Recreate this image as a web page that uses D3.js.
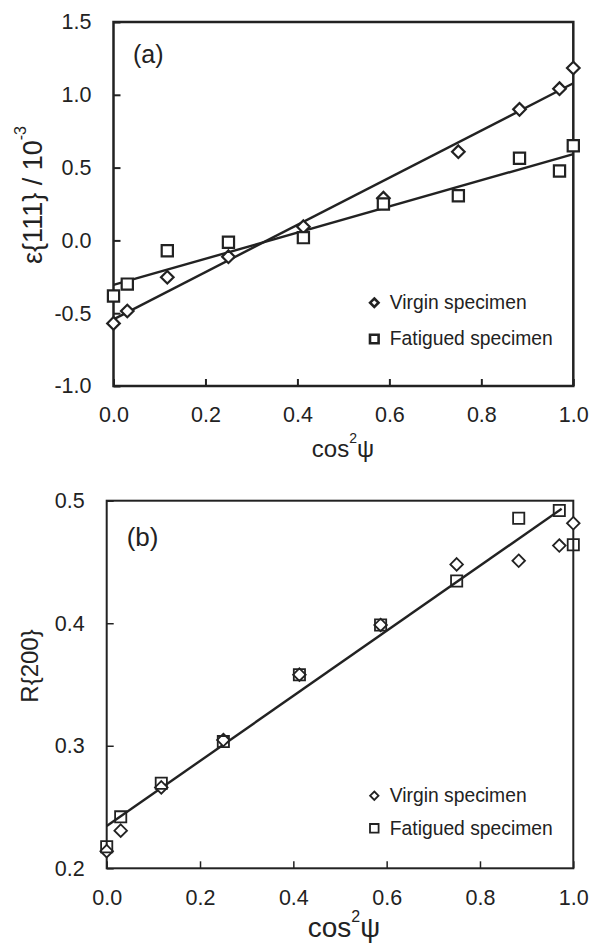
<!DOCTYPE html>
<html>
<head>
<meta charset="utf-8">
<script src="https://cdn.jsdelivr.net/npm/d3@7"></script>
<style>
  body { margin: 0; background: #fff; }
  svg { display: block; }
  text { font-family: "Liberation Sans", Arial, Helvetica, sans-serif; fill: #222; }
</style>
</head>
<body>
<svg id="chart" width="591" height="952"></svg>
<script>
// cos^2(psi) for psi = 90, 80, ..., 0 degrees
const cosPsi = [0, 0.030, 0.117, 0.250, 0.413, 0.587, 0.750, 0.883, 0.970, 1.0];

// (a) lattice strain eps{111} (x 10^-3)
const strainVirgin   = [-0.57, -0.485, -0.253, -0.112, 0.094, 0.29, 0.609, 0.90, 1.042, 1.184];
const strainFatigued = [-0.382, -0.30, -0.071, -0.013, 0.019, 0.25, 0.307, 0.564, 0.477, 0.65];
// linear fits: [intercept, slope]
const strainFitVirgin   = [-0.542, 1.621];
const strainFitFatigued = [-0.306, 0.899];

// (b) peak ratio R{200}
const ratioVirgin   = [0.214, 0.2307, 0.266, 0.3047, 0.358, 0.3986, 0.448, 0.451, 0.4634, 0.4816];
const ratioFatigued = [0.2176, 0.242, 0.2694, 0.3034, 0.358, 0.3986, 0.4345, 0.4857, 0.492, 0.464];
const ratioFit = [0.2345, 0.2655];
const ratioFitRange = [0, 0.975];

const xTicks = [0, 0.2, 0.4, 0.6, 0.8, 1.0];
const strainTicks = [-1.0, -0.5, 0.0, 0.5, 1.0, 1.5];
const ratioTicks = [0.2, 0.3, 0.4, 0.5];
const seriesNames = ["Virgin specimen", "Fatigued specimen"];

const ink = "#222";
const svg = d3.select("#chart");
const fmt = d => d.toFixed(1);

function diamondPath(r) {
  return `M0,${-r}L${r},0L0,${r}L${-r},0Z`;
}
function squarePath(h) {
  return `M${-h},${-h}H${h}V${h}H${-h}Z`;
}

function drawPanel(p) {
  const x = d3.scaleLinear().domain([0, 1]).range([p.left, p.right]);
  const y = d3.scaleLinear().domain(p.yDomain).range([p.bottom, p.top]);
  const g = svg.append("g");

  // axes with inward ticks
  const ax = g.append("g")
    .attr("transform", `translate(0,${p.bottom})`)
    .call(d3.axisBottom(x).tickValues(xTicks).tickFormat(fmt).tickSize(-7).tickPadding(p.xPad));
  const ay = g.append("g")
    .attr("transform", `translate(${p.left},0)`)
    .call(d3.axisLeft(y).tickValues(p.yTicks).tickFormat(fmt).tickSize(-7).tickPadding(p.yPad));
  [ax, ay].forEach(a => {
    a.select(".domain").remove();
    a.attr("font-family", null).attr("font-size", null);
    a.selectAll("line").attr("stroke", ink).attr("stroke-width", p.tickW);
    a.selectAll("text").attr("font-size", 21.5).attr("fill", ink);
  });

  // frame
  g.append("rect")
    .attr("x", p.left).attr("y", p.top)
    .attr("width", p.right - p.left).attr("height", p.bottom - p.top)
    .attr("fill", "none").attr("stroke", ink).attr("stroke-width", p.frameW);

  // fit lines
  p.fits.forEach(f => {
    const xs = f.range;
    g.append("line")
      .attr("x1", x(xs[0])).attr("y1", y(f.coef[0] + f.coef[1] * xs[0]))
      .attr("x2", x(xs[1])).attr("y2", y(f.coef[0] + f.coef[1] * xs[1]))
      .attr("stroke", ink).attr("stroke-width", 2.4);
  });

  // markers
  p.series.forEach(s => {
    g.append("g").selectAll("path")
      .data(s.values.map((v, i) => [cosPsi[i], v]))
      .join("path")
      .attr("transform", d => `translate(${x(d[0])},${y(d[1])})`)
      .attr("d", s.shape === "diamond" ? diamondPath(6.3) : squarePath(5.6))
      .attr("fill", s.fill)
      .attr("stroke", ink)
      .attr("stroke-width", p.markW);
  });

  // legend
  p.legend.forEach((l, i) => {
    g.append("path")
      .attr("transform", `translate(${p.legX},${l.y})`)
      .attr("d", l.shape === "diamond" ? diamondPath(4.2) : squarePath(4.3))
      .attr("fill", "#fff").attr("stroke", ink).attr("stroke-width", p.legMarkW);
    g.append("text")
      .attr("x", p.legX + 15.5).attr("y", l.y + 6.3)
      .attr("font-size", 19.3)
      .text(seriesNames[i]);
  });

  // panel tag
  g.append("text")
    .attr("x", p.tag.x).attr("y", p.tag.y)
    .attr("font-size", p.tag.size)
    .text(p.tag.text);

  // x title
  const xt = g.append("text")
    .attr("x", p.xTitle.x).attr("y", p.xTitle.y)
    .attr("text-anchor", "middle")
    .attr("font-size", p.xTitle.size);
  xt.append("tspan").text("cos");
  xt.append("tspan").attr("font-size", p.xTitle.supSize).attr("dy", -p.xTitle.raise).text("2");
  xt.append("tspan").attr("dy", p.xTitle.raise).text("\u03c8");

  // y title
  const yt = g.append("text")
    .attr("transform", `translate(${p.yTitle.x},${p.yTitle.y}) rotate(-90)`)
    .attr("text-anchor", "middle")
    .attr("font-size", p.yTitle.size);
  yt.append("tspan").text(p.yTitle.text);
  if (p.yTitle.sup) {
    yt.append("tspan").attr("font-size", p.yTitle.supSize).attr("dy", -p.yTitle.raise).text(p.yTitle.sup);
  }
}

drawPanel({
  left: 113.5, right: 573.3, top: 22, bottom: 386,
  yDomain: [-1.0, 1.5], yTicks: strainTicks,
  xPad: 21, yPad: 22, tickW: 2, frameW: 2.5, markW: 2.2, legMarkW: 2.6,
  fits: [
    { coef: strainFitVirgin, range: [0, 1] },
    { coef: strainFitFatigued, range: [0, 1] }
  ],
  series: [
    { values: strainVirgin, shape: "diamond", fill: "#fff" },
    { values: strainFatigued, shape: "square", fill: "#fff" }
  ],
  legX: 374.3,
  legend: [{ shape: "diamond", y: 302.7 }, { shape: "square", y: 339 }],
  tag: { text: "(a)", x: 133, y: 63, size: 25 },
  xTitle: { x: 343, y: 456.7, size: 24, supSize: 14, raise: 14 },
  yTitle: { x: 42, y: 195, size: 27, text: "\u03b5{111} / 10", sup: "-3", supSize: 16, raise: 16 }
});

drawPanel({
  left: 106.7, right: 573.3, top: 500.7, bottom: 868.3,
  yDomain: [0.2, 0.5], yTicks: ratioTicks,
  xPad: 21, yPad: 22, tickW: 1.5, frameW: 2, markW: 1.8, legMarkW: 1.8,
  fits: [{ coef: ratioFit, range: ratioFitRange }],
  series: [
    { values: ratioVirgin, shape: "diamond", fill: "#fff" },
    { values: ratioFatigued, shape: "square", fill: "none" }
  ],
  legX: 374.3,
  legend: [{ shape: "diamond", y: 795.7 }, { shape: "square", y: 828.3 }],
  tag: { text: "(b)", x: 126.7, y: 546, size: 26 },
  xTitle: { x: 344, y: 936.7, size: 28, supSize: 16, raise: 15 },
  yTitle: { x: 38, y: 666, size: 24, text: "R{200}" }
});
</script>
</body>
</html>
